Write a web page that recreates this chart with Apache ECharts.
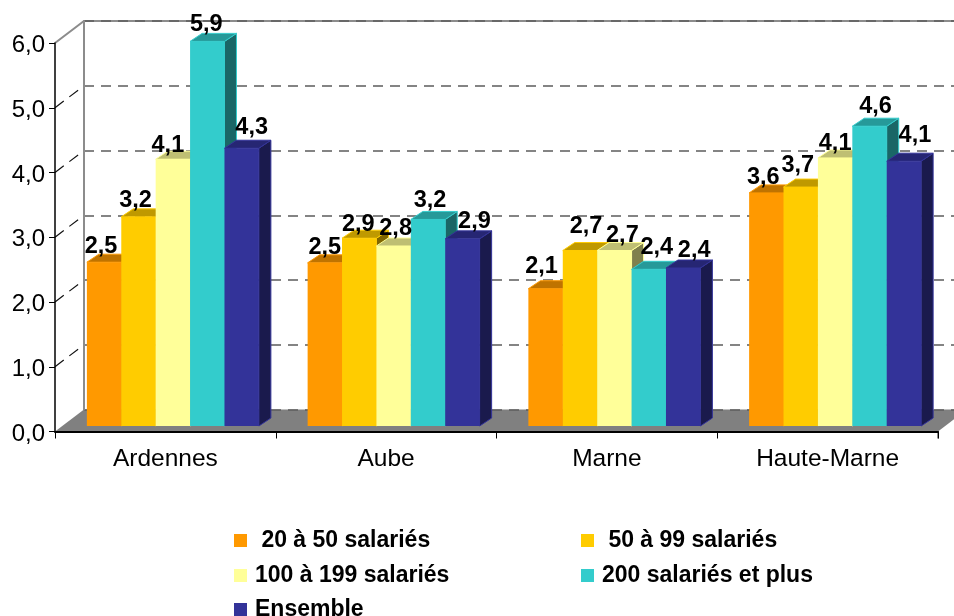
<!DOCTYPE html>
<html>
<head>
<meta charset="utf-8">
<style>
html, body { margin: 0; padding: 0; background: #fff; overflow: hidden; }
#main { width: 954px; height: 616px; }
</style>
<script src="https://cdn.jsdelivr.net/npm/echarts@6/dist/echarts.min.js"></script>
</head>
<body>
<div id="main"></div>
<script>
var categories = ['Ardennes', 'Aube', 'Marne', 'Haute-Marne'];
var seriesNames = [' 20 à 50 salariés', ' 50 à 99 salariés', '100 à 199 salariés', '200 salariés et plus', 'Ensemble'];
var values20 = [2.53, 2.52, 2.12, 3.6];
var values50 = [3.23, 2.9, 2.71, 3.69];
var values100 = [4.12, 2.78, 2.71, 4.14];
var values200 = [5.94, 3.19, 2.42, 4.63];
var valuesAll = [4.29, 2.89, 2.44, 4.09];
var yTicks = [0, 1, 2, 3, 4, 5, 6];

// colours: front, top, side
var colors = [
    ['#FF9900', '#BF7300', '#804D00'],
    ['#FFCC00', '#BF9900', '#806600'],
    ['#FFFF99', '#BFBF73', '#80804D'],
    ['#33CCCC', '#269999', '#1A6666'],
    ['#333399', '#262673', '#1A1A4D']
];
var allValues = [values20, values50, values100, values200, valuesAll];

// hand placed data labels, per series then per category
var labelDx = [[-3, 0, -4, -3], [-3, -1, 6, -3], [-5, 2, 8, 0], [-1, 2, 8, 6], [10, 12, 11, 11]];
var labelDy = [[-9, -8, -15, -8], [-9, -7, -17, -15], [-7, -10, -8, -7], [-10, -12, -15, -13], [-14, -10, -10, -19]];

var wallX = 29, wallY = 22;   // depth of the box
var barStartX = 7.5, barStartY = 5.5;   // bars sit a bit behind the front
var barDepthX = 12, barDepthY = 8;
var barsWidth = 172;

function fmt(v) {
    return v.toFixed(1).replace('.', ',');
}

function renderBar(idx) {
    return function(params, api) {
        var cat = api.value(0);
        var p = api.coord([cat, api.value(1)]);
        var base = api.coord([cat, 0]);
        var w = barsWidth / 5;
        var x = p[0] + barStartX - barsWidth / 2 + idx * w;
        var top = p[1] - barStartY;
        var bottom = base[1] - barStartY;
        var c = colors[idx];
        return {
            type: 'group',
            children: [{
                type: 'polygon',
                z2: idx,
                shape: { points: [[x + w, top], [x + w + barDepthX, top - barDepthY], [x + w + barDepthX, bottom - barDepthY], [x + w, bottom]] },
                style: { fill: c[2], stroke: c[0], lineWidth: 1 }
            }, {
                type: 'polygon',
                z2: idx,
                shape: { points: [[x, top], [x + barDepthX, top - barDepthY], [x + w + barDepthX, top - barDepthY], [x + w, top]] },
                style: { fill: c[1], stroke: c[0], lineWidth: 1 }
            }, {
                type: 'rect',
                z2: idx,
                shape: { x: x, y: top, width: w, height: bottom - top },
                style: { fill: c[0] }
            }, {
                type: 'text',
                z2: 100,
                style: {
                    x: x + w / 2 + labelDx[idx][cat],
                    y: top + labelDy[idx][cat] - 7,
                    text: fmt(api.value(1)),
                    fill: '#000',
                    font: 'bold 23.5px "Liberation Sans", Arial, sans-serif',
                    align: 'center',
                    verticalAlign: 'middle'
                }
            }]
        };
    };
}

function renderWalls(params, api) {
    var v = api.value(0);
    var half = api.size([1, 0])[0] / 2;
    var left = api.coord([0, v]);
    var right = api.coord([categories.length - 1, v]);
    var x0 = left[0] - half, x1 = right[0] + half, y = left[1];
    var children = [];
    if (v === 0) {
        children.push({
            type: 'polygon',
            shape: { points: [[x0, y], [x0 + wallX, y - wallY], [x1 + wallX, y - wallY], [x1, y]] },
            style: { fill: '#808080' }
        });
        children.push({
            type: 'line',
            shape: { x1: x1, y1: y, x2: x1, y2: y + 7 },
            style: { stroke: '#666', lineWidth: 1.5 }
        });
    } else if (v === 6) {
        children.push({
            type: 'polyline',
            shape: { points: [[x0, y], [x0 + wallX, y - wallY], [x1 + wallX, y - wallY]] },
            style: { stroke: '#8c8c8c', lineWidth: 2, fill: null }
        });
    } else {
        children.push({
            type: 'line',
            shape: { x1: x0, y1: y, x2: x0 + wallX, y2: y - wallY },
            style: { stroke: '#111', lineWidth: 1.2, lineDash: [11, 7] }
        });
    }
    return { type: 'group', children: children };
}

var series = [{
    type: 'custom',
    name: 'walls',
    z: -1,
    silent: true,
    xAxisIndex: 0,
    yAxisIndex: 0,
    renderItem: renderWalls,
    data: yTicks.map(function(t) { return [t]; }),
    encode: { y: 0 }
}];
for (var s = 0; s < seriesNames.length; s++) {
    series.push({
        type: 'custom',
        name: seriesNames[s],
        z: 2,
        xAxisIndex: 0,
        yAxisIndex: 0,
        itemStyle: { color: colors[s][0] },
        renderItem: renderBar(s),
        data: allValues[s].map(function(v, i) { return [i, v]; }),
        encode: { x: 0, y: 1 }
    });
}

function legendAt(name, x, y) {
    return {
        data: [name],
        left: x,
        top: y,
        orient: 'horizontal',
        selectedMode: false,
        itemWidth: 13,
        itemHeight: 13,
        icon: 'rect',
        padding: 0,
        textStyle: { color: '#000', fontFamily: '"Liberation Sans", Arial, sans-serif', fontWeight: 'bold', fontSize: 23, padding: [0, 0, 0, 3] }
    };
}

var option = {
    animation: false,
    backgroundColor: '#fff',
    textStyle: { fontFamily: '"Liberation Sans", Arial, sans-serif' },
    legend: [
        legendAt(seriesNames[0], 234, 529),
        legendAt(seriesNames[1], 581, 529),
        legendAt(seriesNames[2], 234, 564),
        legendAt(seriesNames[3], 581, 564),
        legendAt(seriesNames[4], 234, 598)
    ],
    grid: [
        { left: 55, top: 43, width: 883, height: 388.5 },
        { left: 84, top: 21, width: 883, height: 388.5 }
    ],
    xAxis: [{
        type: 'category',
        gridIndex: 0,
        data: categories,
        axisLine: { lineStyle: { color: '#000', width: 2 } },
        axisTick: { show: true, length: 7, lineStyle: { color: '#000', width: 1 } },
        axisLabel: { color: '#000', fontSize: 24.5, margin: 15 }
    }, {
        type: 'category',
        gridIndex: 1,
        data: categories,
        axisLine: { show: false },
        axisTick: { show: false },
        axisLabel: { show: false }
    }],
    yAxis: [{
        type: 'value',
        gridIndex: 0,
        min: 0,
        max: 6,
        interval: 1,
        splitLine: { show: false },
        axisLine: { show: true, lineStyle: { color: '#000', width: 1.5 } },
        axisTick: { show: true, length: 6, lineStyle: { color: '#000', width: 1 } },
        axisLabel: {
            color: '#000',
            fontSize: 24,
            margin: 10,
            formatter: function(v) { return '{t|' + fmt(v) + '}'; },
            rich: { t: { fontSize: 24, color: '#000', padding: [5, 0, 0, 0] } }
        }
    }, {
        type: 'value',
        gridIndex: 1,
        min: 0,
        max: 6,
        interval: 1,
        axisLine: { show: true, lineStyle: { color: '#8c8c8c', width: 2 } },
        axisTick: { show: false },
        axisLabel: { show: false },
        splitLine: { show: true, lineStyle: { color: '#5c5c5c', width: 1.5, type: [10, 7] } }
    }],
    series: series
};

var chart = echarts.init(document.getElementById('main'));
chart.setOption(option);
</script>
</body>
</html>
